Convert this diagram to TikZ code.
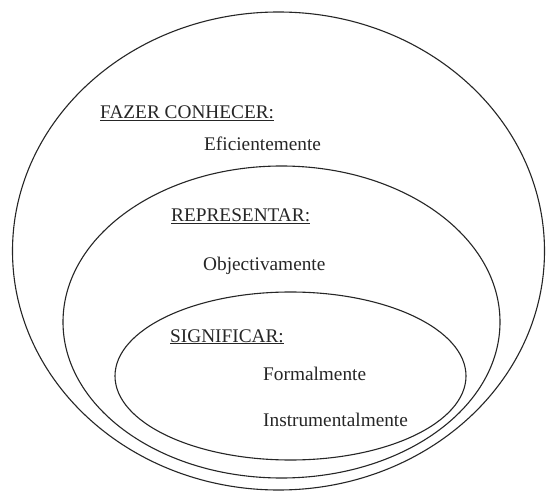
\documentclass[tikz,border=0pt]{standalone}
\usepackage{fontspec}
\setmainfont{Liberation Serif}
\begin{document}
\begin{tikzpicture}[x=1pt,y=-1pt,
  ring/.style={draw=black!85, line width=1.1pt},
  lbl/.style={anchor=base west, inner sep=0pt, text=black!85, font=\fontsize{19.3}{23}\selectfont}]
\useasboundingbox[fill=white] (0,0) rectangle (547,492);
% nested ellipses
\draw[ring] (278.5,251) ellipse [x radius=266pt, y radius=239pt];
\draw[ring] (281.5,322) ellipse [x radius=218.5pt, y radius=156pt];
\draw[ring] (290.5,376) ellipse [x radius=175.5pt, y radius=84pt];
% labels
\node[lbl] (fazer) at (100,119) {\underline{FAZER CONHECER:}};
\node[lbl] (efic) at (204,151) {Eficientemente};
\node[lbl] (repr) at (171,222) {\underline{REPRESENTAR:}};
\node[lbl] (obj) at (203,271) {Objectivamente};
\node[lbl] (sign) at (170,342) {\underline{SIGNIFICAR:}};
\node[lbl] (form) at (263,381) {Formalmente};
\node[lbl] (instr) at (263,426) {Instrumentalmente};
\end{tikzpicture}
\end{document}
